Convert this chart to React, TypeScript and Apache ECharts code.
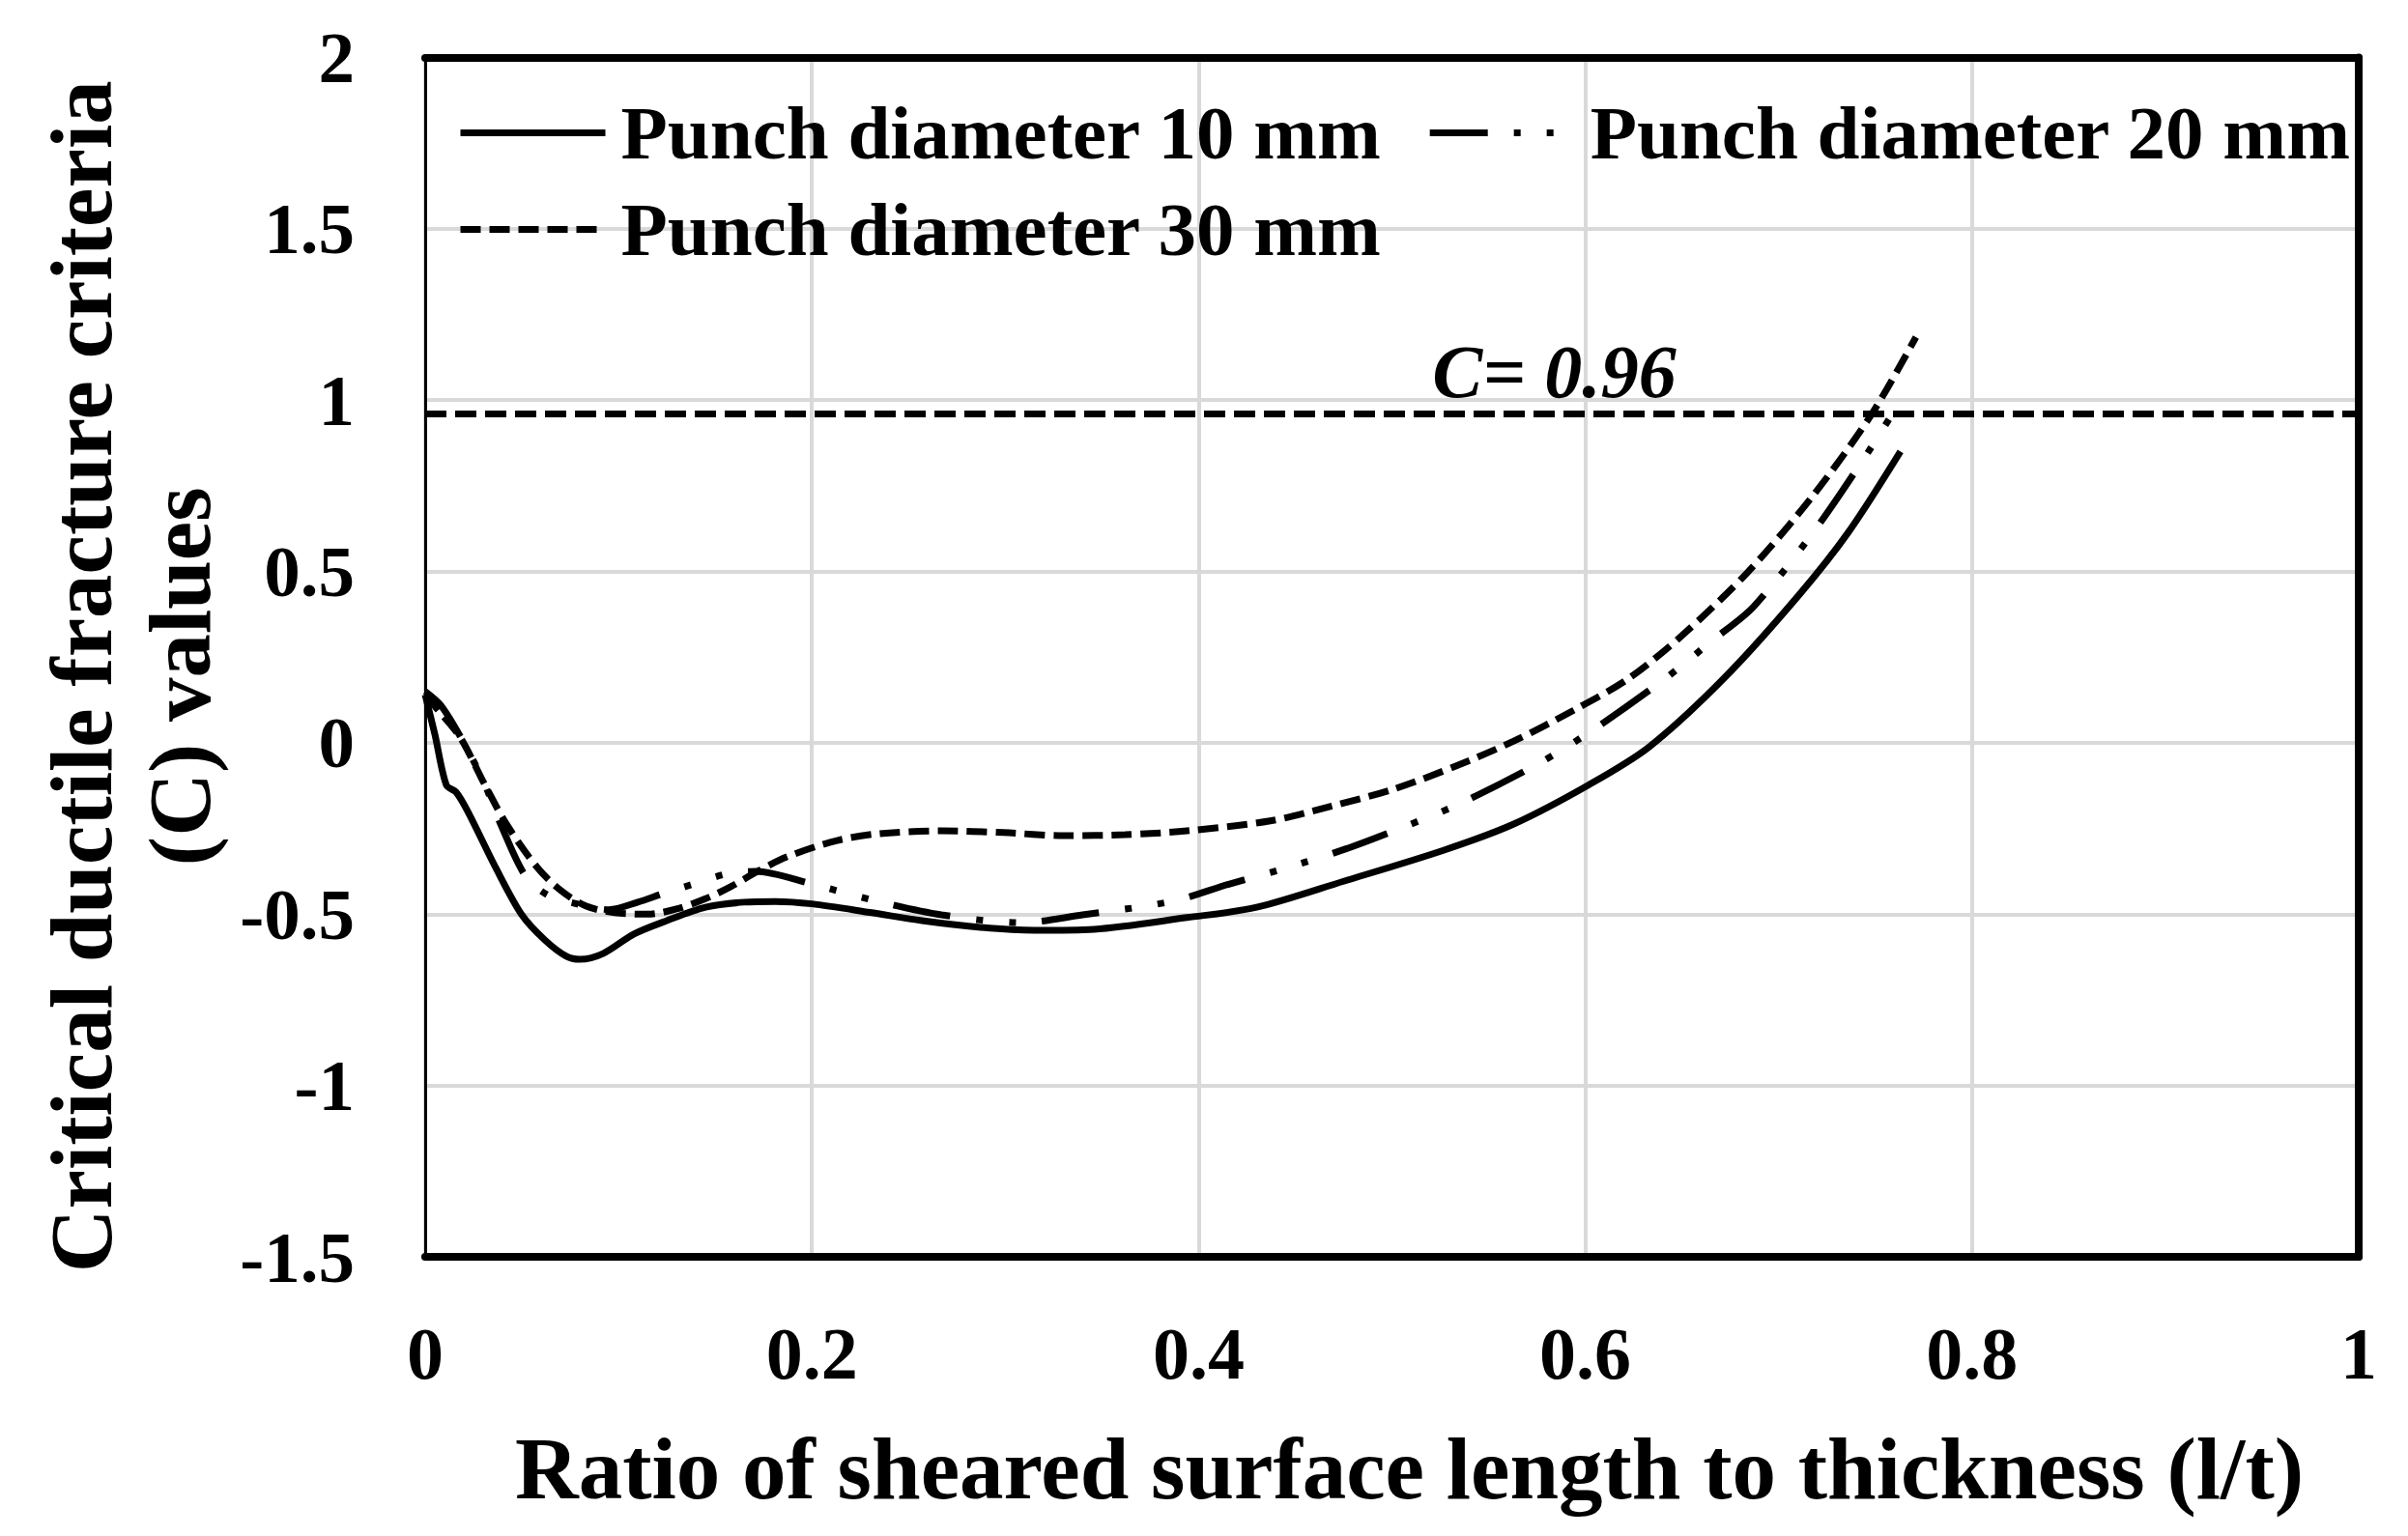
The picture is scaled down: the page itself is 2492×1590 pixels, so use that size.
import React, { useEffect, useRef } from "react";
import * as echarts from "echarts";

const X_TICKS = [0, 0.2, 0.4, 0.6, 0.8, 1];
const Y_TICKS = [-1.5, -1, -0.5, 0, 0.5, 1, 1.5, 2];

const SERIES_NAMES = ["Punch diameter 10 mm", "Punch diameter 20 mm", "Punch diameter 30 mm"];

const X_10 = [0, 0.005, 0.011, 0.016, 0.022, 0.037, 0.05, 0.062, 0.073, 0.08, 0.092, 0.108, 0.125, 0.145, 0.165, 0.181, 0.2, 0.23, 0.257, 0.286, 0.315, 0.346, 0.394, 0.43, 0.475, 0.527, 0.563, 0.602, 0.633, 0.672, 0.71, 0.736, 0.763];
const Y_10 = [0.14, 0.025, -0.124, -0.144, -0.2, -0.37, -0.502, -0.576, -0.623, -0.632, -0.615, -0.558, -0.519, -0.48, -0.465, -0.463, -0.47, -0.495, -0.519, -0.538, -0.547, -0.544, -0.51, -0.48, -0.404, -0.313, -0.237, -0.122, -0.012, 0.19, 0.428, 0.614, 0.85];

const X_20 = [0, 0.008, 0.018, 0.03, 0.039, 0.052, 0.064, 0.08, 0.095, 0.11, 0.123, 0.14, 0.155, 0.171, 0.2, 0.232, 0.267, 0.308, 0.34, 0.386, 0.416, 0.446, 0.477, 0.505, 0.535, 0.576, 0.603, 0.641, 0.666, 0.687, 0.719, 0.746, 0.761];
const Y_20 = [0.15, 0.11, 0.02, -0.11, -0.237, -0.39, -0.446, -0.472, -0.487, -0.465, -0.44, -0.41, -0.384, -0.375, -0.412, -0.46, -0.502, -0.525, -0.502, -0.463, -0.412, -0.364, -0.308, -0.248, -0.178, -0.06, 0.034, 0.186, 0.3, 0.397, 0.623, 0.846, 0.98];

const X_30 = [0, 0.006, 0.018, 0.031, 0.042, 0.058, 0.07, 0.083, 0.098, 0.115, 0.13, 0.145, 0.158, 0.172, 0.187, 0.213, 0.235, 0.267, 0.299, 0.33, 0.362, 0.394, 0.437, 0.468, 0.501, 0.533, 0.563, 0.594, 0.622, 0.65, 0.684, 0.717, 0.748, 0.771];
const Y_30 = [0.14, 0.1, 0.017, -0.124, -0.237, -0.364, -0.43, -0.476, -0.496, -0.5, -0.485, -0.455, -0.42, -0.375, -0.333, -0.285, -0.265, -0.257, -0.262, -0.271, -0.268, -0.257, -0.228, -0.186, -0.135, -0.068, 0.005, 0.095, 0.186, 0.313, 0.498, 0.716, 0.958, 1.184];

const THRESHOLD = 0.96;
const THRESHOLD_LABEL = "C= 0.96";
const THRESHOLD_LABEL_X = 0.584;

const FONT = "'Liberation Serif', 'Times New Roman', serif";

function pairs(xs: number[], ys: number[]) {
  return xs.map((x, i) => [x, ys[i]]);
}

const fmt = (v: number) => String(parseFloat(v.toFixed(1)));

export default function App() {
  const ref = useRef<HTMLDivElement>(null);

  useEffect(() => {
    if (!ref.current) return;
    const chart = echarts.init(ref.current, undefined, { renderer: "svg" });
    const lineBase = { color: "#000", width: 7, cap: "butt" as const };

    const legendCommon = {
      left: 473,
      orient: "horizontal" as const,
      padding: 0,
      itemWidth: 150,
      itemHeight: 20,
      itemGap: 46,
      itemStyle: { color: "rgba(0,0,0,0)", borderWidth: 0, opacity: 0 },
      lineStyle: { width: 7 },
      textStyle: {
        fontFamily: FONT,
        fontWeight: "bold",
        fontSize: 79,
        color: "#000",
        padding: [0, 0, 0, 11],
      },
    };

    chart.setOption({
      animation: false,
      backgroundColor: "#fff",
      grid: { left: 440, right: 51, top: 59.5, bottom: 289, containLabel: false },
      legend: [
        { ...legendCommon, top: 98, data: [SERIES_NAMES[0], SERIES_NAMES[1]] },
        { ...legendCommon, top: 198, data: [SERIES_NAMES[2]] },
      ],
      xAxis: [
        {
          type: "value",
          min: X_TICKS[0],
          max: X_TICKS[X_TICKS.length - 1],
          interval: 0.2,
          position: "bottom",
          axisLine: { show: true, onZero: false, lineStyle: { color: "#000", width: 8 } },
          axisTick: { show: false },
          splitLine: { show: true, lineStyle: { color: "#d9d9d9", width: 4 } },
          axisLabel: {
            margin: 62,
            fontFamily: FONT,
            fontWeight: "bold",
            fontSize: 76,
            color: "#000",
            formatter: fmt,
          },
          name: "Ratio of sheared surface length to thickness (l/t)",
          nameLocation: "middle",
          nameGap: 174,
          nameTextStyle: {
            fontFamily: FONT,
            fontWeight: "bold",
            fontSize: 91,
            color: "#000",
            padding: [0, 0, 0, 36],
          },
        },
        {
          type: "value",
          min: X_TICKS[0],
          max: X_TICKS[X_TICKS.length - 1],
          position: "top",
          axisLine: { show: true, onZero: false, lineStyle: { color: "#000", width: 8 } },
          axisTick: { show: false },
          axisLabel: { show: false },
          splitLine: { show: false },
        },
      ],
      yAxis: [
        {
          type: "value",
          min: Y_TICKS[0],
          max: Y_TICKS[Y_TICKS.length - 1],
          interval: 0.5,
          position: "left",
          axisLine: { show: true, onZero: false, lineStyle: { color: "#000", width: 3 } },
          axisTick: { show: false },
          splitLine: { show: true, lineStyle: { color: "#d9d9d9", width: 4 } },
          axisLabel: {
            margin: 73,
            fontFamily: FONT,
            fontWeight: "bold",
            fontSize: 75,
            color: "#000",
            formatter: fmt,
          },
          name: "Critical ductile fracture criteria\n(C) values",
          nameLocation: "middle",
          nameGap: 185,
          nameTextStyle: {
            fontFamily: FONT,
            fontWeight: "bold",
            fontSize: 91,
            lineHeight: 102,
            color: "#000",
            padding: [0, 40, 0, 0],
          },
        },
        {
          type: "value",
          min: Y_TICKS[0],
          max: Y_TICKS[Y_TICKS.length - 1],
          position: "right",
          axisLine: { show: true, onZero: false, lineStyle: { color: "#000", width: 8 } },
          axisTick: { show: false },
          axisLabel: { show: false },
          splitLine: { show: false },
        },
      ],
      series: [
        {
          name: SERIES_NAMES[0],
          type: "line",
          data: pairs(X_10, Y_10),
          smooth: 0.3,
          symbol: "none",
          lineStyle: { ...lineBase, type: "solid" },
          itemStyle: { color: "#000" },
          z: 4,
          markLine: {
            silent: true,
            symbol: ["none", "none"],
            label: { show: false },
            lineStyle: { color: "#000", width: 7, type: [22, 9] },
            data: [{ yAxis: THRESHOLD }],
          },
          markPoint: {
            silent: true,
            symbol: "circle",
            symbolSize: 1,
            itemStyle: { color: "rgba(0,0,0,0)" },
            label: {
              show: true,
              position: "top",
              distance: 4,
              formatter: THRESHOLD_LABEL,
              fontFamily: FONT,
              fontWeight: "bold",
              fontStyle: "italic",
              fontSize: 78,
              color: "#000",
            },
            data: [{ coord: [THRESHOLD_LABEL_X, THRESHOLD] }],
          },
        },
        {
          name: SERIES_NAMES[1],
          type: "line",
          data: pairs(X_20, Y_20),
          smooth: 0.3,
          symbol: "none",
          lineStyle: { ...lineBase, type: [60, 27, 7, 27, 7, 27] },
          itemStyle: { color: "#000" },
          z: 3,
        },
        {
          name: SERIES_NAMES[2],
          type: "line",
          data: pairs(X_30, Y_30),
          smooth: 0.3,
          symbol: "none",
          lineStyle: { ...lineBase, type: [21, 9] },
          itemStyle: { color: "#000" },
          z: 2,
        },
      ],
    });

    return () => chart.dispose();
  }, []);

  return (
    <div
      ref={ref}
      style={{ position: "absolute", left: 0, top: 0, width: 2492, height: 1590, background: "#fff" }}
    />
  );
}
